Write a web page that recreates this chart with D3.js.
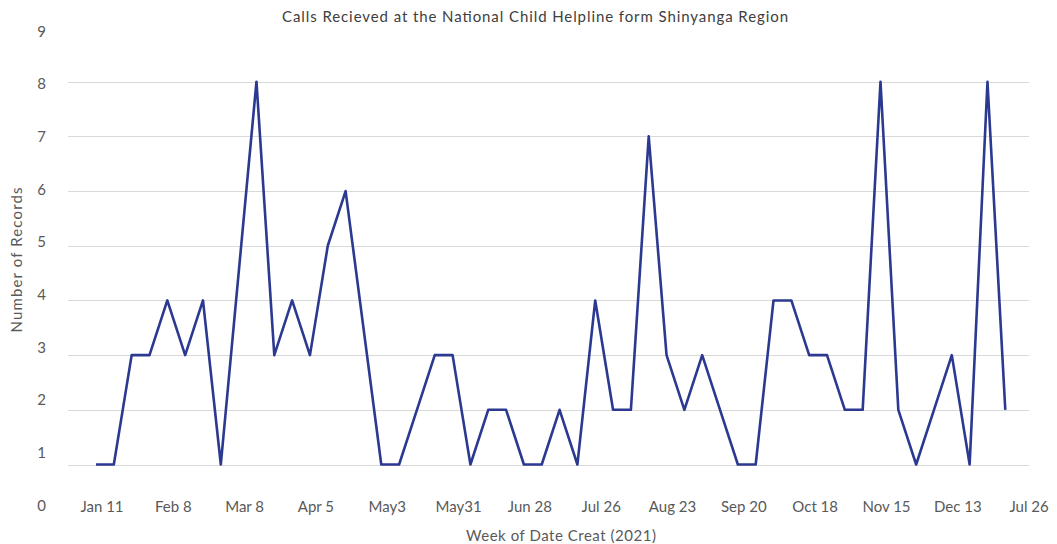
<!DOCTYPE html>
<html>
<head>
<meta charset="utf-8">
<script src="https://cdn.jsdelivr.net/npm/d3@7"></script>
<style>
  html, body { margin: 0; padding: 0; background: #ffffff; }
  svg { display: block; }
  text { font-family: "Lato", "Open Sans", sans-serif; }
</style>
</head>
<body>
<svg id="chart" width="1057" height="544"></svg>
<script>
// Weekly call counts (week index counted from the week of Jan 11, 2021).
// Weeks with no records are absent, so the line runs straight across them.
const weekIndex = [0, 1, 2, 3, 4, 5, 6, 7, 9, 10, 11, 12, 13, 14, 16, 17, 18, 19, 20, 21,
  22, 23, 24, 25, 26, 27, 28, 29, 30, 31, 32, 33, 34, 35, 36, 37, 38, 39, 40, 41,
  42, 43, 44, 45, 46, 47, 48, 49, 50, 51];
const calls = [1, 1, 3, 3, 4, 3, 4, 1, 8, 3, 4, 3, 5, 6, 1, 1, 2, 3, 3, 1,
  2, 2, 1, 1, 2, 1, 4, 2, 2, 7, 3, 2, 3, 2, 1, 1, 4, 4, 3, 3,
  2, 2, 8, 2, 1, 2, 3, 1, 8, 2];

// Axis ticks
const xTickWeeks = [0, 4, 8, 12, 16, 20, 24, 28, 32, 36, 40, 44, 48, 52];
const xTickLabels = ["Jan 11", "Feb 8", "Mar 8", "Apr 5", "May3", "May31", "Jun 28",
  "Jul 26", "Aug 23", "Sep 20", "Oct 18", "Nov 15", "Dec 13", "Jul 26"];
const yGridValues = [1, 2, 3, 4, 5, 6, 7, 8];
const yTickLabels = [0, 1, 2, 3, 4, 5, 6, 7, 8, 9];

const titleText = "Calls Recieved at the National Child Helpline form Shinyanga Region";
const xTitle = "Week of Date Creat (2021)";
const yTitle = "Number of Records";

const svg = d3.select("#chart");

const x = d3.scaleLinear().domain([0, 51]).range([96, 1005.3]);
const y = d3.scaleLinear().domain([1, 8]).range([464.5, 81.7]);
// tick labels sit on their own evenly spaced scale
const yLabel = d3.scaleLinear().domain([0, 9]).range([507, 33]);

const gridLeft = 68, gridRight = 1029;

// gridlines
svg.append("g")
  .selectAll("line")
  .data(yGridValues)
  .join("line")
  .attr("x1", gridLeft)
  .attr("x2", gridRight)
  .attr("y1", d => Math.round(y(d)) + 0.5)
  .attr("y2", d => Math.round(y(d)) + 0.5)
  .attr("stroke", "#d9d9d9")
  .attr("stroke-width", 1);

// y tick labels
svg.append("g")
  .selectAll("text")
  .data(yTickLabels)
  .join("text")
  .attr("x", 41.5)
  .attr("y", d => yLabel(d))
  .attr("text-anchor", "middle")
  .attr("dominant-baseline", "middle")
  .attr("font-size", 15)
  .attr("fill", "#595959")
  .text(d => d);

// x tick labels
svg.append("g")
  .selectAll("text")
  .data(xTickWeeks)
  .join("text")
  .attr("x", d => x(d) + 6)
  .attr("y", 508)
  .attr("text-anchor", "middle")
  .attr("dominant-baseline", "middle")
  .attr("font-size", 15)
  .attr("fill", "#595959")
  .text((d, i) => xTickLabels[i]);

// line
const points = weekIndex.map((w, i) => ({ w, v: calls[i] }));
const line = d3.line().x(d => x(d.w)).y(d => y(d.v));
svg.append("path")
  .datum(points)
  .attr("d", line)
  .attr("fill", "none")
  .attr("stroke", "#2b3990")
  .attr("stroke-width", 2.6)
  .attr("stroke-linejoin", "round")
  .attr("stroke-linecap", "butt");

// titles
svg.append("text")
  .attr("x", 535)
  .attr("y", 18.5)
  .attr("text-anchor", "middle")
  .attr("dominant-baseline", "middle")
  .attr("font-size", 15)
  .attr("fill", "#404040")
  .attr("textLength", 506)
  .attr("lengthAdjust", "spacing")
  .text(titleText);

svg.append("text")
  .attr("x", 561)
  .attr("y", 537)
  .attr("text-anchor", "middle")
  .attr("dominant-baseline", "middle")
  .attr("font-size", 15)
  .attr("fill", "#595959")
  .attr("textLength", 190)
  .attr("lengthAdjust", "spacing")
  .text(xTitle);

svg.append("text")
  .attr("transform", "translate(18.5,260) rotate(-90)")
  .attr("text-anchor", "middle")
  .attr("dominant-baseline", "middle")
  .attr("font-size", 15)
  .attr("fill", "#595959")
  .attr("textLength", 145)
  .attr("lengthAdjust", "spacing")
  .text(yTitle);
</script>
</body>
</html>
